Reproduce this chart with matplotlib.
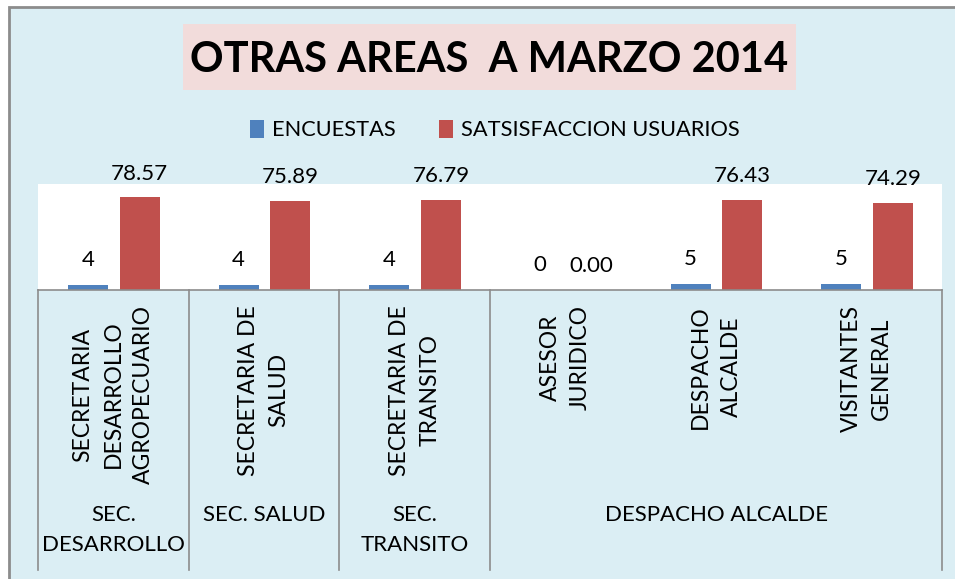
import matplotlib
matplotlib.use("Agg")
import matplotlib.pyplot as plt
import matplotlib.transforms as mtransforms
from matplotlib.patches import Rectangle

plt.rcParams['font.family'] = ['Lato', 'DejaVu Sans']

# data
categories = ["SECRETARIA\nDESARROLLO\nAGROPECUARIO", "SECRETARIA DE\nSALUD",
              "SECRETARIA DE\nTRANSITO", "ASESOR\nJURIDICO", "DESPACHO\nALCALDE",
              "VISITANTES\nGENERAL"]
groups = ["SEC.\nDESARROLLO", "SEC. SALUD", "SEC.\nTRANSITO", "DESPACHO ALCALDE"]
group_sizes = [1, 1, 1, 3]
encuestas = [4, 4, 4, 0, 5, 5]
satisfaccion = [78.57, 75.89, 76.79, 0.00, 76.43, 74.29]

W, H = 955, 579
fig = plt.figure(figsize=(W / 100, H / 100), dpi=100)
fig.patch.set_facecolor("white")

# chart area background with border
fig.patches.append(Rectangle((9 / W, -0.05), 1.1, 1.05 - 7 / H, transform=fig.transFigure,
                             facecolor="#DBEEF4", edgecolor="#8C8C8C", lw=2, zorder=-3))

# title box
fig.patches.append(Rectangle((183 / W, 1 - 90 / H), (796 - 183) / W, (90 - 24) / H,
                             transform=fig.transFigure, facecolor="#F2DCDB",
                             edgecolor="none", zorder=-2))
fig.text((183 + 796) / 2 / W, 1 - 60 / H, "OTRAS AREAS  A MARZO 2014",
         ha="center", va="center", fontsize=30, fontweight="bold", color="black")

# plot area (pixels)
left, right, top, bottom = 38, 942, 184, 290
ax = fig.add_axes([left / W, 1 - bottom / H, (right - left) / W, (bottom - top) / H])
ax.set_facecolor("white")
ax.set_zorder(1)

x = list(range(len(categories)))
bw = 0.265
b1 = ax.bar([i - 0.168 for i in x], encuestas, width=bw, color="#4F81BD", label="ENCUESTAS")
b2 = ax.bar([i + 0.175 for i in x], satisfaccion, width=bw, color="#C0504D",
            label="SATSISFACCION USUARIOS")

for rect, v in zip(b1, encuestas):
    ax.annotate(str(v), (rect.get_x() + rect.get_width() / 2, v), xytext=(0, 11),
                textcoords="offset points", ha="center", va="bottom", fontsize=16)
for rect, v in zip(b2, satisfaccion):
    ax.annotate(f"{v:.2f}", (rect.get_x() + rect.get_width() / 2, v), xytext=(0, 10),
                textcoords="offset points", ha="center", va="bottom", fontsize=16)

ax.set_xlim(-0.5, len(categories) - 0.5)
ax.set_ylim(0, 90)
ax.set_xticks([])
ax.set_yticks([])
for s in ["left", "right", "top"]:
    ax.spines[s].set_visible(False)
ax.spines["bottom"].set_color("#8C8C8C")
ax.spines["bottom"].set_linewidth(1.2)

def ay(px):
    return (bottom - px) / (bottom - top)

trans = mtransforms.blended_transform_factory(ax.transData, ax.transAxes)

# category labels
for i, c in enumerate(categories):
    ax.text(i, ay(305), c, transform=trans, rotation=90, ha="center", va="top",
            multialignment="center", fontsize=16.5, linespacing=1.55, clip_on=False)

# group separators and labels
edges = [-0.5]
for n in group_sizes:
    edges.append(edges[-1] + n)
for e in edges:
    ax.plot([e, e], [0, ay(570)], transform=trans, color="#8C8C8C", lw=1.2, clip_on=False)
for g, a, b in zip(groups, edges[:-1], edges[1:]):
    ax.text((a + b) / 2, ay(505), g, transform=trans, ha="center", va="top",
            multialignment="center", fontsize=16, linespacing=1.65, clip_on=False)

leg = fig.legend(loc="center", bbox_to_anchor=(495 / W, 1 - 130 / H), ncol=2, frameon=False,
                 fontsize=15.7, handlelength=0.65, handleheight=0.9, handletextpad=0.35,
                 columnspacing=2.0)

fig.savefig("out.png", dpi=100)
